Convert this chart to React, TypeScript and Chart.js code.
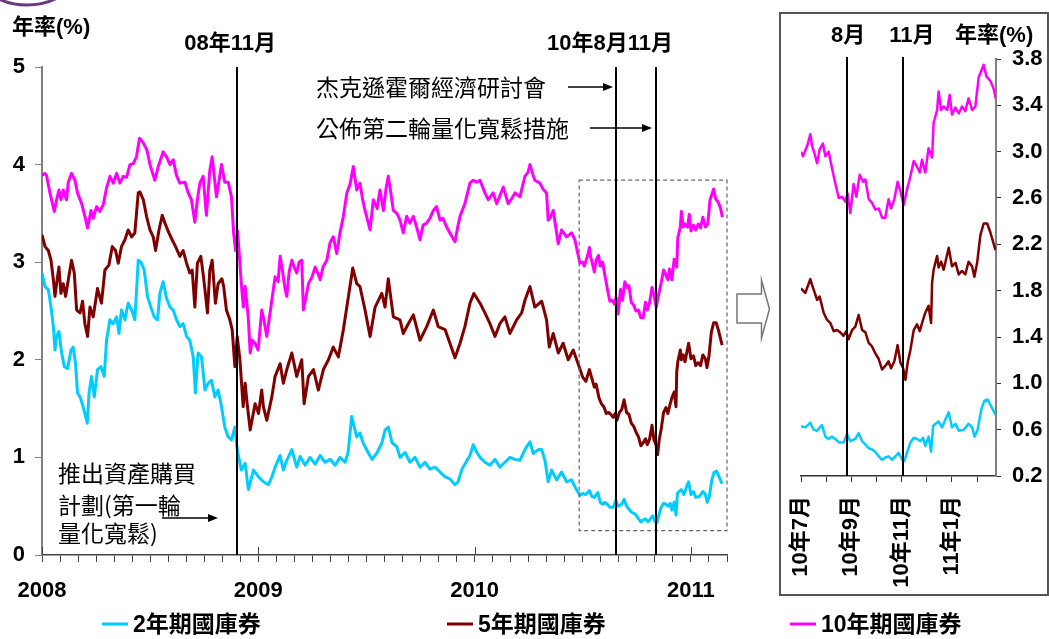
import React, { useEffect, useRef } from 'react';
import { Chart, registerables } from 'chart.js';
Chart.register(...registerables);

const W = 1049;
const H = 639;
const LATIN = '"Liberation Sans", Arial, "Noto Sans CJK TC", sans-serif';
const CJK = '"Noto Sans CJK TC", "Noto Sans CJK SC", sans-serif';
const bold = (s: number) => `bold ${s}px ${LATIN}`;

// x values: months since Jan 2008
const MAIN_X_TICKS = Array.from({ length: 39 }, (_, i) => i);
const YEAR_TICKS = [0, 12, 24, 36];
const YEAR_LABELS = ['2008', '2009', '2010', '2011'];
const MAIN_Y_TICKS = [0, 1, 2, 3, 4, 5];
const ZOOM_X_TICKS = [30, 31, 32, 33, 34, 35, 36, 37];
const ZOOM_TICK_MONTHS = [30, 32, 34, 36];
const ZOOM_TICK_LABELS = ['10年7月', '10年9月', '10年11月', '11年1月'];
const ZOOM_Y_TICKS = [0.2, 0.6, 1.0, 1.4, 1.8, 2.2, 2.6, 3.0, 3.4, 3.8];
const EVENT_MONTHS = [10.83, 31.83, 34.05];
const ZOOM_EVENT_LABELS = ['8月', '11月'];
const ZOOM_RANGE = { x0: 29.8, x1: 38, y0: 0.25, y1: 3.84 };
const SERIES_NAMES = ['2年期國庫券', '5年期國庫券', '10年期國庫券'];
const COLORS = ['#00CCFF', '#800000', '#FF00FF'];

const T2 = [0, 0.17, 0.35, 0.5, 0.63, 0.72, 0.81, 0.94, 1.09, 1.24,
  1.42, 1.61, 1.73, 1.86, 1.97, 2.11, 2.23, 2.38, 2.51, 2.61,
  2.75, 2.9, 3.08, 3.27, 3.45, 3.58, 3.77, 3.95, 4.14, 4.27,
  4.41, 4.6, 4.78, 4.97, 5.15, 5.34, 5.49, 5.67, 5.85, 6.04,
  6.22, 6.41, 6.54, 6.72, 6.91, 7.1, 7.28, 7.46, 7.65, 7.83,
  8.02, 8.2, 8.39, 8.51, 8.66, 8.85, 9.04, 9.22, 9.4, 9.59,
  9.77, 9.96, 10.14, 10.33, 10.51, 10.7, 10.83, 11.06, 11.27, 11.45,
  11.73, 12.01, 12.28, 12.56, 12.75, 12.93, 13.21, 13.39, 13.58, 13.86,
  14.13, 14.32, 14.6, 14.87, 15.15, 15.43, 15.7, 15.98, 16.26, 16.53,
  16.81, 16.98, 17.18, 17.46, 17.64, 17.81, 18.09, 18.31, 18.59, 18.86,
  19.03, 19.21, 19.42, 19.68, 19.86, 20.14, 20.41, 20.69, 20.97, 21.25,
  21.52, 21.8, 22.08, 22.36, 22.63, 22.91, 23.08, 23.3, 23.52, 23.74,
  23.92, 24.13, 24.3, 24.57, 24.85, 25.13, 25.4, 25.68, 25.96, 26.24,
  26.51, 26.79, 27.07, 27.25, 27.53, 27.72, 27.9, 28.08, 28.27, 28.55,
  28.82, 29.1, 29.38, 29.56, 29.84,
  30.0, 30.17, 30.37, 30.5, 30.64, 30.83, 30.97, 31.1, 31.23, 31.36,
  31.5, 31.69, 31.83, 31.96, 32.16, 32.29, 32.43, 32.56, 32.69, 32.82,
  32.95, 33.09, 33.22, 33.35, 33.48, 33.62, 33.75, 33.88, 34.02, 34.11,
  34.21, 34.35, 34.48, 34.61, 34.74, 34.85, 34.94, 35.07, 35.17, 35.25,
  35.34, 35.47, 35.61, 35.74, 35.87, 36.0, 36.14, 36.27, 36.47, 36.66,
  36.8, 36.9, 37.02, 37.16, 37.29, 37.42, 37.56, 37.73];
const Y2 = [2.89, 2.75, 2.72, 2.54, 2.34, 2.1, 2.24, 2.29, 2.07, 1.93,
  1.91, 2.1, 2.13, 1.96, 1.66, 1.62, 1.55, 1.45, 1.35, 1.66,
  1.83, 1.62, 1.9, 1.93, 1.83, 2.2, 2.41, 2.37, 2.44, 2.27,
  2.51, 2.41, 2.58, 2.51, 2.41, 3.02, 3.0, 2.92, 2.65, 2.54,
  2.44, 2.41, 2.68, 2.8, 2.63, 2.54, 2.51, 2.41, 2.34, 2.37,
  2.24, 2.2, 2.03, 1.66, 2.07, 2.03, 1.69, 1.76, 1.79, 1.62,
  1.69, 1.52, 1.31, 1.21, 1.18, 1.31, 1.08, 0.87, 0.94, 0.67,
  0.87, 0.8, 0.75, 0.72, 0.8, 0.9, 1.02, 0.87, 0.97, 1.08,
  0.9, 1.01, 0.92, 1.0, 0.93, 1.02, 0.95, 0.98, 0.92, 1.0,
  0.95, 1.05, 1.42, 1.21, 1.25, 1.15, 1.05, 0.98, 1.05, 1.15,
  1.28, 1.31, 1.15, 1.11, 1.0, 1.05, 0.95, 1.0, 0.9, 0.95,
  0.88, 0.9, 0.85, 0.8, 0.78, 0.72, 0.75, 0.88, 0.95, 1.02,
  1.13, 1.05, 1.0, 0.95, 0.92, 0.98, 0.9, 0.95, 1.0, 0.98,
  0.97, 1.08, 1.16, 1.04, 1.08, 1.08, 0.97, 0.75, 0.87, 0.77,
  0.85, 0.75, 0.77, 0.7, 0.61,
  0.63, 0.62, 0.66, 0.6, 0.59, 0.64, 0.54, 0.52, 0.54, 0.52,
  0.49, 0.49, 0.56, 0.5, 0.52, 0.57, 0.5, 0.47, 0.44, 0.43,
  0.41, 0.37, 0.34, 0.36, 0.37, 0.34, 0.37, 0.4, 0.34, 0.33,
  0.4, 0.49, 0.53, 0.52, 0.5, 0.53, 0.46, 0.54, 0.41, 0.63,
  0.65, 0.67, 0.62, 0.69, 0.75, 0.62, 0.65, 0.59, 0.6, 0.65,
  0.62, 0.54, 0.6, 0.77, 0.85, 0.86, 0.8, 0.73];

const T5 = [0, 0.17, 0.35, 0.5, 0.63, 0.72, 0.81, 0.94, 1.05, 1.18,
  1.31, 1.46, 1.64, 1.79, 1.92, 2.11, 2.25, 2.38, 2.53, 2.66,
  2.84, 3.08, 3.3, 3.49, 3.71, 3.9, 4.08, 4.23, 4.41, 4.6,
  4.78, 4.97, 5.15, 5.34, 5.43, 5.62, 5.8, 5.99, 6.17, 6.3,
  6.49, 6.67, 6.82, 7.04, 7.22, 7.41, 7.65, 7.83, 8.02, 8.2,
  8.33, 8.48, 8.62, 8.81, 8.96, 9.18, 9.31, 9.44, 9.62, 9.77,
  9.98, 10.08, 10.23, 10.42, 10.55, 10.7, 10.83, 10.98, 11.16, 11.27,
  11.38, 11.55, 11.82, 12.01, 12.19, 12.28, 12.47, 12.75, 12.93, 13.21,
  13.39, 13.58, 13.86, 14.13, 14.41, 14.54, 14.78, 15.06, 15.33, 15.61,
  15.89, 16.16, 16.44, 16.72, 16.91, 17.24, 17.46, 17.64, 17.92, 18.2,
  18.48, 18.85, 19.03, 19.21, 19.49, 19.86, 20.04, 20.32, 20.6, 20.97,
  21.34, 21.71, 21.98, 22.36, 22.63, 22.91, 23.19, 23.46, 23.74, 23.96,
  24.3, 24.57, 24.85, 25.13, 25.4, 25.68, 25.96, 26.33, 26.61, 26.79,
  27.07, 27.34, 27.72, 27.99, 28.14, 28.36, 28.64, 28.91, 29.19, 29.47,
  29.74,
  30.0, 30.17, 30.37, 30.44, 30.64, 30.74, 30.9, 31.03, 31.17, 31.3,
  31.43, 31.56, 31.69, 31.8, 31.89, 32.03, 32.16, 32.29, 32.43, 32.56,
  32.69, 32.82, 32.95, 33.09, 33.22, 33.35, 33.48, 33.58, 33.71, 33.84,
  33.95, 34.06, 34.15, 34.24, 34.35, 34.48, 34.61, 34.72, 34.81, 34.94,
  35.07, 35.17, 35.21, 35.27, 35.41, 35.47, 35.57, 35.67, 35.87, 36.0,
  36.14, 36.27, 36.4, 36.53, 36.66, 36.8, 36.89, 37.0, 37.13, 37.26,
  37.4, 37.53, 37.73];
const Y5 = [3.28, 3.16, 3.12, 3.02, 2.82, 2.65, 2.78, 2.95, 2.68, 2.78,
  2.65, 2.82, 3.02, 2.89, 2.51, 2.48, 2.6, 2.37, 2.24, 2.54,
  2.44, 2.73, 2.58, 2.92, 2.97, 3.16, 3.12, 2.99, 3.16, 3.23,
  3.33, 3.26, 3.3, 3.71, 3.72, 3.64, 3.47, 3.33, 3.26, 3.12,
  3.33, 3.48, 3.4, 3.3, 3.23, 3.16, 3.06, 3.12, 2.99, 2.89,
  2.92, 2.54, 2.99, 3.06, 2.85, 2.48, 2.92, 3.02, 2.58, 2.78,
  2.83, 2.75, 2.51, 2.41, 2.31, 1.93, 2.24, 2.0, 1.52, 1.76,
  1.55, 1.28, 1.55, 1.45, 1.69, 1.52, 1.38, 1.62, 1.83, 1.96,
  1.76, 1.9, 2.07, 1.83, 2.0, 1.55, 1.83, 1.9, 1.69, 1.9,
  2.0, 2.13, 2.03, 2.31, 2.54, 2.94, 2.78, 2.75, 2.51, 2.24,
  2.54, 2.68, 2.54, 2.83, 2.44, 2.41, 2.27, 2.37, 2.46, 2.2,
  2.34, 2.51, 2.34, 2.31, 2.17, 2.02, 2.17, 2.34, 2.58, 2.68,
  2.58, 2.48, 2.37, 2.24, 2.37, 2.44, 2.27, 2.41, 2.48, 2.61,
  2.75, 2.54, 2.6, 2.41, 2.13, 2.27, 2.07, 2.17, 2.0, 2.1,
  1.96,
  1.82, 1.78, 1.9, 1.85, 1.72, 1.75, 1.61, 1.55, 1.52, 1.45,
  1.46, 1.44, 1.41, 1.45, 1.38, 1.46, 1.49, 1.59, 1.46, 1.44,
  1.35, 1.32, 1.26, 1.21, 1.12, 1.15, 1.19, 1.13, 1.19, 1.33,
  1.18, 1.13, 1.03, 1.18, 1.29, 1.46, 1.51, 1.45, 1.52, 1.61,
  1.67, 1.52, 1.87, 1.98, 2.1, 2.0, 2.05, 1.98, 2.17, 2.01,
  2.04, 1.94, 1.97, 1.94, 2.05, 2.01, 1.92, 2.04, 2.28, 2.38,
  2.38, 2.3, 2.15];

const T10 = [0, 0.16, 0.25, 0.44, 0.68, 0.81, 0.94, 1.05, 1.18, 1.36,
  1.46, 1.64, 1.83, 1.97, 2.2, 2.38, 2.53, 2.72, 2.84, 3.03,
  3.21, 3.4, 3.58, 3.77, 3.95, 4.14, 4.32, 4.51, 4.69, 4.88,
  5.06, 5.24, 5.41, 5.63, 5.82, 5.99, 6.26, 6.45, 6.72, 6.91,
  7.1, 7.28, 7.46, 7.65, 7.93, 8.11, 8.29, 8.48, 8.62, 8.76,
  8.94, 9.12, 9.31, 9.44, 9.68, 9.96, 10.14, 10.33, 10.51, 10.63,
  10.74, 10.85, 11.07, 11.17, 11.27, 11.44, 11.55, 11.66, 11.82, 11.99,
  12.19, 12.32, 12.47, 12.75, 12.93, 13.1, 13.21, 13.35, 13.49, 13.58,
  13.71, 13.86, 13.99, 14.13, 14.26, 14.41, 14.5, 14.65, 14.78, 14.98,
  15.15, 15.32, 15.43, 15.59, 15.8, 15.98, 16.16, 16.35, 16.53, 16.72,
  16.91, 17.09, 17.27, 17.46, 17.64, 17.78, 17.92, 18.2, 18.38, 18.59,
  18.75, 18.94, 19.08, 19.21, 19.36, 19.49, 19.69, 19.86, 20.04, 20.23,
  20.41, 20.6, 20.8, 20.97, 21.14, 21.34, 21.52, 21.71, 21.89, 22.08,
  22.24, 22.45, 22.63, 22.91, 23.05, 23.19, 23.46, 23.74, 23.92, 24.11,
  24.3, 24.57, 24.76, 25.03, 25.22, 25.4, 25.59, 25.86, 26.05, 26.24,
  26.51, 26.79, 26.96, 27.07, 27.23, 27.34, 27.62, 27.79, 27.99, 28.08,
  28.18, 28.36, 28.64, 28.82, 29.1, 29.38, 29.56, 29.84,
  30.0, 30.08, 30.26, 30.37, 30.44, 30.53, 30.64, 30.74, 30.87, 30.97,
  31.1, 31.23, 31.36, 31.5, 31.63, 31.76, 31.85, 31.96, 32.09, 32.2,
  32.33, 32.47, 32.56, 32.69, 32.82, 32.95, 33.09, 33.22, 33.35, 33.48,
  33.58, 33.71, 33.84, 33.95, 34.08, 34.21, 34.35, 34.48, 34.61, 34.72,
  34.81, 34.94, 35.07, 35.21, 35.27, 35.41, 35.47, 35.57, 35.67, 35.81,
  35.91, 36.0, 36.14, 36.27, 36.4, 36.53, 36.66, 36.8, 36.93, 37.06,
  37.26, 37.37, 37.53, 37.66, 37.74];
const Y10 = [3.89, 3.91, 3.89, 3.71, 3.52, 3.64, 3.74, 3.64, 3.74, 3.64,
  3.82, 3.91, 3.84, 3.71, 3.6, 3.47, 3.35, 3.53, 3.45, 3.57,
  3.52, 3.59, 3.76, 3.88, 3.81, 3.91, 3.81, 3.88, 3.87, 4.0,
  4.01, 4.08, 4.27, 4.22, 4.15, 4.0, 3.84, 3.98, 4.13, 4.08,
  4.0, 4.05, 3.89, 3.81, 3.82, 3.71, 3.64, 3.41, 3.64, 3.81,
  3.88, 3.48, 3.94, 4.08, 3.67, 4.0, 3.82, 3.82, 3.67, 3.3,
  3.12, 3.32, 2.75, 2.54, 2.75, 2.44, 2.07, 2.2, 2.17, 2.1,
  2.51, 2.4, 2.24, 2.61, 2.85, 2.8, 3.06, 2.9, 2.72, 2.65,
  2.9, 3.02, 2.95, 2.89, 3.0, 3.02, 2.51, 2.65, 2.78, 2.85,
  2.95, 2.88, 2.82, 2.95, 3.02, 3.2, 3.26, 3.09, 3.3, 3.47,
  3.71, 3.8, 3.98, 3.74, 3.81, 3.65, 3.53, 3.33, 3.64, 3.55,
  3.74, 3.53, 3.75, 3.88, 3.7, 3.53, 3.5, 3.43, 3.3, 3.47,
  3.4, 3.47, 3.35, 3.23, 3.38, 3.4, 3.45, 3.53, 3.57, 3.43,
  3.45, 3.36, 3.3, 3.21, 3.35, 3.47, 3.6, 3.81, 3.84, 3.82,
  3.84, 3.71, 3.64, 3.71, 3.6, 3.68, 3.77, 3.6, 3.65, 3.71,
  3.67, 3.88, 3.92, 4.0, 3.9, 3.84, 3.81, 3.75, 3.71, 3.43,
  3.45, 3.53, 3.19, 3.33, 3.26, 3.3, 3.23, 2.99,
  3.0, 2.96, 3.06, 3.15, 3.05, 2.99, 2.9, 3.02, 3.07, 2.96,
  3.0, 2.86, 2.73, 2.6, 2.61, 2.57, 2.64, 2.47, 2.72, 2.61,
  2.8, 2.74, 2.76, 2.59, 2.56, 2.5, 2.51, 2.43, 2.43, 2.59,
  2.51, 2.59, 2.74, 2.66, 2.54, 2.67, 2.79, 2.92, 2.87, 2.82,
  2.93, 2.82, 3.03, 2.95, 3.25, 3.36, 3.52, 3.36, 3.39, 3.36,
  3.49, 3.32, 3.38, 3.33, 3.39, 3.35, 3.46, 3.36, 3.39, 3.64,
  3.75, 3.65, 3.61, 3.54, 3.46];

const SERIES = [
  { t: T2, y: Y2 },
  { t: T5, y: Y5 },
  { t: T10, y: Y10 },
];

const pts = (t: number[], y: number[], from = -Infinity) =>
  t.map((x, i) => ({ x, y: y[i] })).filter((p) => p.x >= from);

function drawText(ctx: CanvasRenderingContext2D, s: string, x: number, y: number, font: string, align: CanvasTextAlign = 'left') {
  ctx.font = font;
  ctx.textAlign = align;
  ctx.textBaseline = 'middle';
  ctx.fillStyle = '#000';
  ctx.fillText(s, x, y);
}

function drawArrow(ctx: CanvasRenderingContext2D, x0: number, x1: number, y: number) {
  ctx.strokeStyle = '#000';
  ctx.fillStyle = '#000';
  ctx.lineWidth = 1.5;
  ctx.beginPath();
  ctx.moveTo(x0, y);
  ctx.lineTo(x1 - 8, y);
  ctx.stroke();
  ctx.beginPath();
  ctx.moveTo(x1, y);
  ctx.lineTo(x1 - 10, y - 4);
  ctx.lineTo(x1 - 10, y + 4);
  ctx.closePath();
  ctx.fill();
}

const mainDecor = {
  id: 'mainDecor',
  afterDatasetsDraw(chart: any) {
    const { ctx, chartArea: a } = chart;
    const xs = chart.scales.x;
    const ys = chart.scales.y;
    ctx.save();
    // dashed zoom box
    ctx.setLineDash([4, 3]);
    ctx.strokeStyle = '#666';
    ctx.lineWidth = 1.2;
    const bx0 = xs.getPixelForValue(ZOOM_RANGE.x0);
    const bx1 = xs.getPixelForValue(ZOOM_RANGE.x1);
    const by0 = ys.getPixelForValue(ZOOM_RANGE.y1);
    const by1 = ys.getPixelForValue(ZOOM_RANGE.y0);
    ctx.strokeRect(bx0, by0, bx1 - bx0, by1 - by0);
    ctx.setLineDash([]);
    // event lines
    ctx.strokeStyle = '#000';
    ctx.lineWidth = 2;
    EVENT_MONTHS.forEach((m) => {
      const px = Math.round(xs.getPixelForValue(m));
      ctx.beginPath();
      ctx.moveTo(px, a.top);
      ctx.lineTo(px, a.bottom);
      ctx.stroke();
    });
    // major year ticks crossing the axis
    ctx.strokeStyle = '#444';
    ctx.lineWidth = 1;
    YEAR_TICKS.forEach((m) => {
      const px = Math.round(xs.getPixelForValue(m)) + 0.5;
      ctx.beginPath();
      ctx.moveTo(px, a.bottom - 8);
      ctx.lineTo(px, a.bottom);
      ctx.stroke();
    });
    ctx.restore();
  },
  afterDraw(chart: any) {
    const { ctx } = chart;
    const xs = chart.scales.x;
    ctx.save();
    // logo fragment
    ctx.strokeStyle = '#6B3A7D';
    ctx.lineWidth = 3;
    ctx.beginPath();
    ctx.arc(27, -62, 67, 0, Math.PI);
    ctx.stroke();

    drawText(ctx, '年率(%)', 12, 28, bold(22));
    const l1 = xs.getPixelForValue(EVENT_MONTHS[0]);
    drawText(ctx, '08年11月', l1 - 7, 44, bold(22), 'center');
    drawText(ctx, '10年8月11月', 610, 44, bold(22), 'center');

    const cjk = `23px ${CJK}`;
    drawText(ctx, '杰克遜霍爾經濟研討會', 316, 87, cjk);
    drawText(ctx, '公佈第二輪量化寬鬆措施', 316, 128, cjk);
    drawArrow(ctx, 568, 613, 87);
    drawArrow(ctx, 590, 652, 128);

    drawText(ctx, '推出資產購買', 58, 473, cjk);
    drawText(ctx, '計劃(第一輪', 58, 505, cjk);
    drawText(ctx, '量化寬鬆)', 58, 533, cjk);
    drawArrow(ctx, 162, 218, 518);

    // block arrow toward zoom panel
    ctx.strokeStyle = '#777';
    ctx.fillStyle = '#fff';
    ctx.lineWidth = 1.5;
    ctx.beginPath();
    ctx.moveTo(737, 294);
    ctx.lineTo(761.5, 294);
    ctx.lineTo(761.5, 280);
    ctx.lineTo(769.5, 309);
    ctx.lineTo(761.5, 338);
    ctx.lineTo(761.5, 323);
    ctx.lineTo(737, 323);
    ctx.closePath();
    ctx.fill();
    ctx.stroke();

    // legend
    const lx = [102, 447, 790];
    chart.data.datasets.forEach((ds: any, i: number) => {
      ctx.strokeStyle = ds.borderColor;
      ctx.lineWidth = 3;
      ctx.beginPath();
      ctx.moveTo(lx[i], 624);
      ctx.lineTo(lx[i] + 26, 624);
      ctx.stroke();
      drawText(ctx, ds.label, lx[i] + 31, 626, bold(23));
    });
    ctx.restore();
  },
};

const zoomDecor = {
  id: 'zoomDecor',
  afterDatasetsDraw(chart: any) {
    const { ctx, chartArea: a } = chart;
    const xs = chart.scales.x;
    ctx.save();
    ctx.strokeStyle = '#000';
    ctx.lineWidth = 2;
    EVENT_MONTHS.filter((m) => m >= xs.min).forEach((m) => {
      const px = Math.round(xs.getPixelForValue(m));
      ctx.beginPath();
      ctx.moveTo(px, a.top - 2);
      ctx.lineTo(px, a.bottom);
      ctx.stroke();
    });
    ctx.restore();
  },
  afterDraw(chart: any) {
    const { ctx } = chart;
    const xs = chart.scales.x;
    ctx.save();
    const ev = EVENT_MONTHS.filter((m) => m >= xs.min);
    drawText(ctx, ZOOM_EVENT_LABELS[0], xs.getPixelForValue(ev[0]) + 1, 22, bold(22), 'center');
    drawText(ctx, ZOOM_EVENT_LABELS[1], xs.getPixelForValue(ev[1]) + 9, 22, bold(22), 'center');
    drawText(ctx, '年率(%)', 174, 22, bold(22));
    ctx.restore();
  },
};

function mainConfig(): any {
  return {
    type: 'line',
    data: {
      datasets: SERIES.map((s, i) => ({
        label: SERIES_NAMES[i],
        data: pts(s.t, s.y),
        borderColor: COLORS[i],
        backgroundColor: COLORS[i],
        borderWidth: 3,
        pointRadius: 0,
        tension: 0,
        fill: false,
        borderJoinStyle: 'round',
      })),
    },
    options: {
      responsive: false,
      animation: false,
      events: [],
      layout: { padding: { left: 0, top: 67, right: 322, bottom: 22 } },
      plugins: { legend: { display: false }, tooltip: { enabled: false } },
      scales: {
        x: {
          type: 'linear',
          min: 0,
          max: 38,
          afterBuildTicks: (s: any) => { s.ticks = MAIN_X_TICKS.map((v) => ({ value: v })); },
          afterFit: (s: any) => { s.height = 62; },
          ticks: {
            autoSkip: false,
            maxRotation: 0,
            padding: 16,
            color: '#000',
            font: { family: LATIN, size: 22, weight: 'bold' },
            callback: (v: number) => {
              const k = YEAR_TICKS.indexOf(v);
              return k >= 0 ? YEAR_LABELS[k] : '';
            },
          },
          grid: { drawOnChartArea: false, drawTicks: true, tickLength: 7, tickColor: '#444', tickWidth: 1 },
          border: { color: '#444', width: 1.5 },
        },
        y: {
          min: 0,
          max: 5,
          afterBuildTicks: (s: any) => { s.ticks = MAIN_Y_TICKS.map((v) => ({ value: v })); },
          afterFit: (s: any) => { s.width = 42; },
          ticks: {
            padding: 10,
            color: '#000',
            font: { family: LATIN, size: 22, weight: 'bold' },
            callback: (v: number) => String(v),
          },
          grid: { drawOnChartArea: false, drawTicks: true, tickLength: 7, tickColor: '#808080', tickWidth: 1 },
          border: { color: '#808080', width: 2 },
        },
      },
    },
    plugins: [mainDecor],
  };
}

function zoomConfig(): any {
  return {
    type: 'line',
    data: {
      datasets: SERIES.map((s, i) => ({
        label: SERIES_NAMES[i],
        data: pts(s.t, s.y, ZOOM_X_TICKS[0]),
        borderColor: COLORS[i],
        backgroundColor: COLORS[i],
        borderWidth: 2.5,
        pointRadius: 0,
        tension: 0,
        fill: false,
        borderJoinStyle: 'round',
      })),
    },
    options: {
      responsive: false,
      animation: false,
      events: [],
      layout: { padding: { left: 20, top: 45, right: 0, bottom: 0 } },
      plugins: { legend: { display: false }, tooltip: { enabled: false } },
      scales: {
        x: {
          type: 'linear',
          min: 30,
          max: 37.75,
          afterBuildTicks: (s: any) => { s.ticks = ZOOM_X_TICKS.map((v) => ({ value: v })); },
          afterFit: (s: any) => { s.height = 118; },
          ticks: {
            autoSkip: false,
            minRotation: 90,
            maxRotation: 90,
            padding: 14,
            color: '#000',
            font: { family: LATIN, size: 22, weight: 'bold' },
            callback: (v: number) => {
              const k = ZOOM_TICK_MONTHS.indexOf(v);
              return k >= 0 ? ZOOM_TICK_LABELS[k] : '';
            },
          },
          grid: { drawOnChartArea: false, drawTicks: true, tickLength: 6, tickColor: '#333', tickWidth: 1 },
          border: { color: '#333', width: 1.5 },
        },
        y: {
          position: 'right',
          min: 0.2,
          max: 3.8,
          afterBuildTicks: (s: any) => { s.ticks = ZOOM_Y_TICKS.map((v) => ({ value: v })); },
          afterFit: (s: any) => { s.width = 51; },
          ticks: {
            padding: 11,
            color: '#000',
            font: { family: LATIN, size: 22, weight: 'bold' },
            callback: (v: number) => v.toFixed(1),
          },
          grid: { drawOnChartArea: false, drawTicks: true, tickLength: 5, tickColor: '#333', tickWidth: 1 },
          border: { color: '#808080', width: 2 },
        },
      },
    },
    plugins: [zoomDecor],
  };
}

export default function App() {
  const mainRef = useRef<HTMLCanvasElement | null>(null);
  const zoomRef = useRef<HTMLCanvasElement | null>(null);
  useEffect(() => {
    const c1 = new Chart(mainRef.current as HTMLCanvasElement, mainConfig());
    const c2 = new Chart(zoomRef.current as HTMLCanvasElement, zoomConfig());
    return () => {
      c1.destroy();
      c2.destroy();
    };
  }, []);
  return (
    <div style={{ position: 'absolute', left: 0, top: 0, width: W, height: H, background: '#fff', overflow: 'hidden' }}>
      <canvas ref={mainRef} width={W} height={H} style={{ position: 'absolute', left: 0, top: 0, width: W, height: H }} />
      <div style={{ position: 'absolute', left: 779, top: 12, width: 270, height: 584, border: '2px solid #555', boxSizing: 'border-box' }}>
        <canvas ref={zoomRef} width={266} height={580} style={{ position: 'absolute', left: 0, top: 0, width: 266, height: 580 }} />
      </div>
    </div>
  );
}
